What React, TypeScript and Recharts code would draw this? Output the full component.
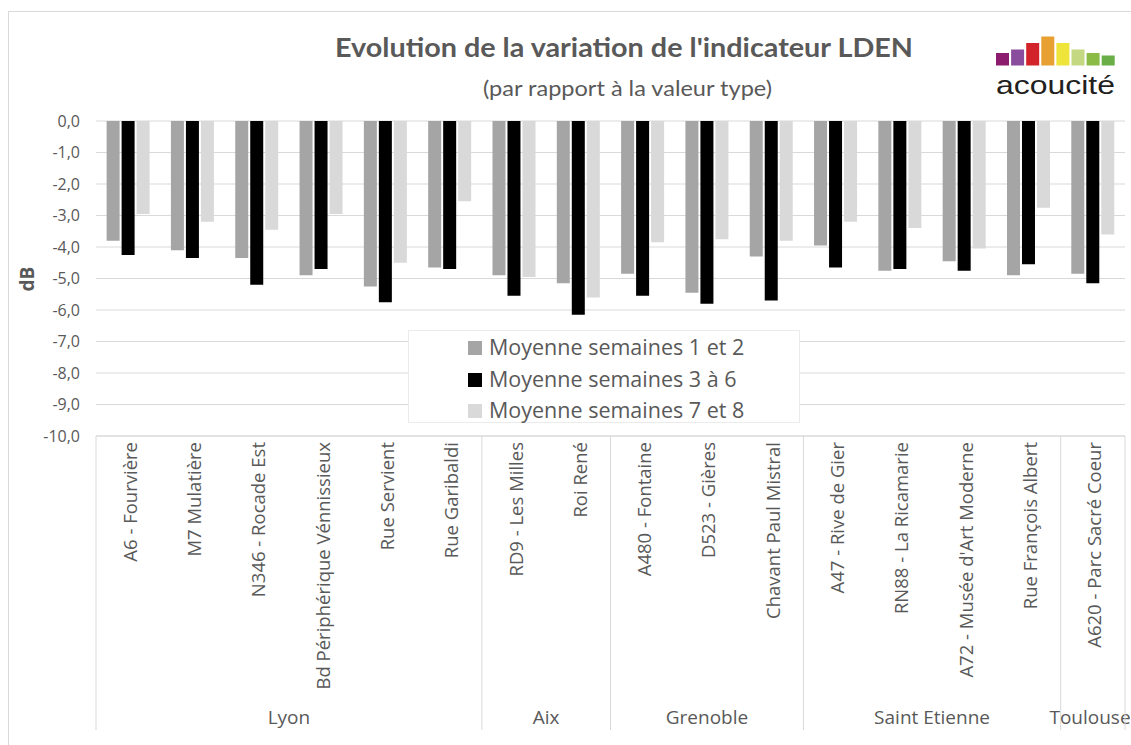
import { Bar, BarChart, CartesianGrid, Legend, XAxis, YAxis } from "recharts";

const sites = [
  "A6 - Fourvière",
  "M7 Mulatière",
  "N346 - Rocade Est",
  "Bd Périphérique Vénnissieux",
  "Rue Servient",
  "Rue Garibaldi",
  "RD9 - Les Milles",
  "Roi René",
  "A480 - Fontaine",
  "D523 - Gières",
  "Chavant Paul Mistral",
  "A47 - Rive de Gier",
  "RN88 - La Ricamarie",
  "A72 - Musée d'Art Moderne",
  "Rue François Albert",
  "A620 - Parc Sacré Coeur",
];

const cities = [
  "Lyon", "Lyon", "Lyon", "Lyon", "Lyon", "Lyon",
  "Aix", "Aix",
  "Grenoble", "Grenoble", "Grenoble",
  "Saint Etienne", "Saint Etienne", "Saint Etienne", "Saint Etienne",
  "Toulouse",
];

const weeks12 = [-3.8, -4.1, -4.35, -4.9, -5.25, -4.65, -4.9, -5.15, -4.85, -5.45, -4.3, -3.95, -4.75, -4.45, -4.9, -4.85];
const weeks36 = [-4.25, -4.35, -5.2, -4.7, -5.75, -4.7, -5.55, -6.15, -5.55, -5.8, -5.7, -4.65, -4.7, -4.75, -4.55, -5.15];
const weeks78 = [-2.95, -3.2, -3.45, -2.95, -4.5, -2.55, -4.95, -5.6, -3.85, -3.75, -3.8, -3.2, -3.4, -4.05, -2.75, -3.6];

const seriesNames = ["Moyenne semaines 1 et 2", "Moyenne semaines 3 à 6", "Moyenne semaines 7 et 8"];
const seriesColors = ["#A5A5A5", "#000000", "#D9D9D9"];

const yTicks = [0, -1, -2, -3, -4, -5, -6, -7, -8, -9, -10];

const data = sites.map((site, i) => ({
  site,
  city: cities[i],
  s1: weeks12[i],
  s2: weeks36[i],
  s3: weeks78[i],
}));

// logo decoration
const logoColors = ["#8B1C6E", "#8A4C9C", "#D2232A", "#E8A033", "#EEE43A", "#C4D882", "#8CBB45", "#6AAE48"];
const logoHeights = [12.5, 16, 22.5, 29, 22.5, 16, 12.5, 10];

const W = 1131;
const H = 745;
const PLOT_LEFT = 96;
const PLOT_RIGHT = 6;
const PLOT_TOP = 121;
const AXIS_H = 309;
const BAND = (W - PLOT_LEFT - PLOT_RIGHT) / sites.length;
const AXIS_Y = H - AXIS_H;
const AXIS_BOTTOM = 730;
const TEXT = "#595959";
const LINE = "#D9D9D9";

const fmt = (v: number) => v.toFixed(1).replace(".", ",");

function SiteTick(props: any) {
  const { x, y, payload } = props;
  const i = props.index ?? payload.index;
  const city = cities[i];
  const first = i === 0 || cities[i - 1] !== city;
  const last = i === sites.length - 1;
  const left = x - BAND / 2;
  const count = cities.filter((c) => c === city).length;
  const tx = x + 1;
  const ty = y - 2;
  // last group label sits against the right edge, like the original
  const gx = Math.min(left + (count * BAND) / 2, W - 41);

  return (
    <g>
      <text
        x={tx}
        y={ty}
        transform={`rotate(-90 ${tx} ${ty})`}
        textAnchor="end"
        dominantBaseline="central"
        fill={TEXT}
        fontSize={18.5}
        fontFamily="Open Sans"
      >
        {payload.value}
      </text>
      {first && <line x1={left} x2={left} y1={AXIS_Y} y2={AXIS_BOTTOM} stroke={LINE} />}
      {first && (
        <text x={gx} y={724} textAnchor="middle" fill={TEXT} fontSize={19} fontFamily="Open Sans">
          {city}
        </text>
      )}
      {last && <line x1={x + BAND / 2} x2={x + BAND / 2} y1={AXIS_Y} y2={AXIS_BOTTOM} stroke={LINE} />}
    </g>
  );
}

function LegendBox({ payload }: any) {
  return (
    <div
      style={{
        width: 392,
        height: 93,
        boxSizing: "border-box",
        background: "#fff",
        border: "1px solid #EBEBEB",
        paddingLeft: 59,
      }}
    >
      {(payload || []).map((entry: any) => (
        <div key={entry.value} style={{ display: "flex", alignItems: "center", height: 31.5 }}>
          <span style={{ width: 14, height: 14, background: entry.color, marginRight: 7, marginTop: 3 }} />
          <span style={{ fontSize: 21.5, color: TEXT, fontFamily: "Open Sans", lineHeight: "31px" }}>
            {entry.value}
          </span>
        </div>
      ))}
    </div>
  );
}

export default function App() {
  return (
    <div
      style={{
        position: "absolute",
        left: 0,
        top: 0,
        width: W,
        height: H,
        overflow: "hidden",
        background: "#fff",
        fontFamily: "Open Sans",
      }}
    >
      <div
        style={{
          position: "absolute",
          left: 8,
          top: 11,
          width: 2000,
          height: 2000,
          borderLeft: `1px solid ${LINE}`,
          borderTop: `1px solid ${LINE}`,
        }}
      />

      <div style={{ position: "absolute", left: 0, top: 0 }}>
        <BarChart
          width={W}
          height={H}
          data={data}
          margin={{ top: PLOT_TOP, right: PLOT_RIGHT, left: 0, bottom: 0 }}
          barCategoryGap="16.5%"
          barGap={2}
        >
          <CartesianGrid vertical={false} stroke={LINE} />
          <XAxis
            dataKey="site"
            height={AXIS_H}
            interval={0}
            axisLine={{ stroke: LINE }}
            tickLine={false}
            tick={<SiteTick />}
          />
          <YAxis
            width={PLOT_LEFT}
            domain={[-10, 0]}
            ticks={yTicks}
            tickFormatter={fmt}
            axisLine={false}
            tickLine={false}
            tickMargin={10}
            tick={{ fill: TEXT, fontSize: 16, fontFamily: "Open Sans" }}
          />
          <Legend
            layout="vertical"
            align="center"
            verticalAlign="middle"
            wrapperStyle={{ left: 408, top: 330, width: 392, height: 93 }}
            content={<LegendBox />}
          />
          <Bar dataKey="s1" name={seriesNames[0]} fill={seriesColors[0]} isAnimationActive={false} />
          <Bar dataKey="s2" name={seriesNames[1]} fill={seriesColors[1]} isAnimationActive={false} />
          <Bar dataKey="s3" name={seriesNames[2]} fill={seriesColors[2]} isAnimationActive={false} />
        </BarChart>
      </div>

      <svg
        width={W}
        height={130}
        style={{ position: "absolute", left: 0, top: 0, pointerEvents: "none" }}
      >
        <text
          x={624}
          y={57}
          textAnchor="middle"
          fill={TEXT}
          fontSize={27}
          fontWeight="bold"
          fontFamily="Lato, 'Open Sans', sans-serif"
          textLength={578}
          lengthAdjust="spacingAndGlyphs"
        >
          Evolution de la variation de l'indicateur LDEN
        </text>
        <text
          x={627.5}
          y={96}
          textAnchor="middle"
          fill={TEXT}
          fontSize={22}
          fontFamily="Lato, 'Open Sans', sans-serif"
          textLength={289}
          lengthAdjust="spacingAndGlyphs"
        >
          (par rapport à la valeur type)
        </text>
        {logoColors.map((c, i) => (
          <rect key={c} x={996 + i * 15.1} y={65.5 - logoHeights[i]} width={13} height={logoHeights[i]} fill={c} />
        ))}
        <text
          x={996}
          y={94}
          fill="#231F20"
          fontSize={26}
          fontFamily="'Liberation Sans', Arial, sans-serif"
          textLength={119}
          lengthAdjust="spacingAndGlyphs"
        >
          acoucité
        </text>
      </svg>

      <svg
        width={60}
        height={400}
        style={{ position: "absolute", left: 0, top: 100, pointerEvents: "none" }}
      >
        <text
          x={27}
          y={179}
          transform="rotate(-90 27 179)"
          textAnchor="middle"
          dominantBaseline="central"
          fill={TEXT}
          fontSize={19}
          fontWeight="bold"
          fontFamily="Open Sans"
        >
          dB
        </text>
      </svg>
    </div>
  );
}
